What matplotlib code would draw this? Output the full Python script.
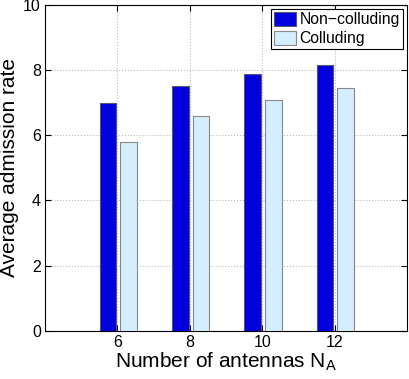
import numpy as np
import matplotlib
matplotlib.use('Agg')
import matplotlib.pyplot as plt

plt.rcParams['font.family'] = ['Liberation Sans', 'DejaVu Sans']

antennas = [6, 8, 10, 12]
non_colluding = [7.0, 7.5, 7.88, 8.16]
colluding = [5.8, 6.6, 7.08, 7.45]

fig = plt.figure(figsize=(4.09, 3.79), dpi=100)
ax = fig.add_axes([0.110, 0.127, 0.885, 0.860])

x = np.array(antennas, dtype=float)
w = 0.46
ax.bar(x - 0.26, non_colluding, w, color='#0000DD', edgecolor='#555577',
       linewidth=0.8, label='Non\u2212colluding', zorder=3)
ax.bar(x + 0.31, colluding, w, color='#D4EEFF', edgecolor='#888888',
       linewidth=0.8, label='Colluding', zorder=3)

ax.set_xlim(4, 14)
ax.set_ylim(0, 10)
ax.set_xticks(antennas)
ax.set_yticks(np.arange(0, 11, 2))
ax.tick_params(direction='in', labelsize=11.5, length=4, pad=3, top=True, right=True,
               labeltop=False, labelright=False)
ax.grid(True, linestyle=':', color='#bbbbbb', linewidth=0.8, zorder=0)
for s in ax.spines.values():
    s.set_linewidth(0.8)

ax.set_xlabel('Number of antennas N$_\\mathregular{A}$', fontsize=15, labelpad=0)
ax.set_ylabel('Average admission rate', fontsize=15, labelpad=3)

leg = ax.legend(loc='upper right', fontsize=11.3, fancybox=False, framealpha=1,
                edgecolor='black', borderpad=0.2, handlelength=1.4, handleheight=1.0,
                handletextpad=0.2, borderaxespad=0.25, labelspacing=0.2)
leg.get_frame().set_linewidth(0.8)

plt.savefig('out.png', dpi=100)
